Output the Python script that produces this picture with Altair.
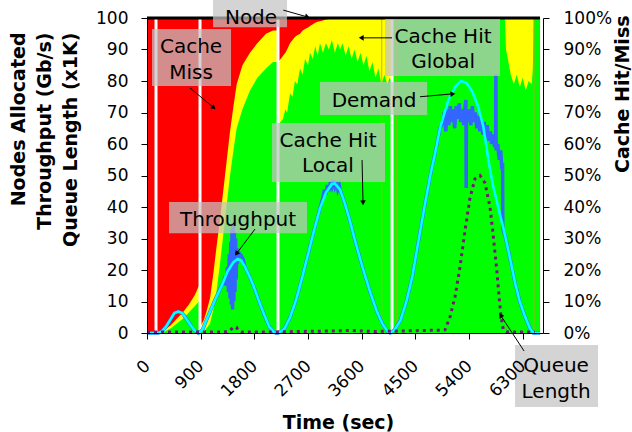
import math
import altair as alt
import pandas as pd

# ---------------- data ----------------
# cache hit/miss areas: top of green (local) and top of yellow (local+global), in %
area_time = [0, 150, 152, 300, 400, 500, 600, 700, 800, 870, 887, 891, 950, 1000, 1057, 1120,
             1157, 1224, 1308, 1392, 1450, 1504, 1600, 1727, 1850, 1995, 2113, 2195, 2199, 2240,
             2281, 2320, 2350, 2398, 2440, 2480, 2520, 2566, 2610, 2650, 2700, 2733, 2780, 2820,
             2860, 2901, 2950, 3000, 3050, 3100, 3150, 3200, 3237, 3280, 3330, 3380, 3430, 3480,
             3530, 3580, 3630, 3680, 3730, 3780, 3830, 3880, 3930, 3980, 4030, 4070, 4105, 4112,
             6000, 6020, 6060, 6100, 6150, 6200, 6250, 6300, 6350, 6400, 6450, 6470, 6485, 6590]
local_top = [0, 0, 0, 0.5, 1.5, 3, 4.5, 6.5, 8.5, 10, 10, 0, 0.5, 1.5, 3, 8,
             12, 22, 36, 50, 58, 65, 71, 77, 81, 84, 86, 86, 66, 67,
             68, 71, 70, 76, 75, 80, 79, 84, 82, 87, 85, 89, 87, 91,
             88, 92, 89, 92, 90, 93, 89, 92, 90, 92, 88, 91, 87, 90,
             86, 89, 85, 88, 83, 86, 81, 84, 79, 82, 79, 81, 80, 100,
             100, 90, 86, 82, 79, 82, 78, 81, 77, 80, 79, 84, 100, 100]
hit_top = [0, 0, 0, 1, 2.5, 4.5, 6.5, 9, 12, 15, 15, 2, 4, 7, 11, 20,
           26, 36, 50, 64, 72, 79, 85, 89, 92, 95, 96, 96, 86, 87,
           88, 89, 90, 92, 93, 94, 94.5, 95, 96, 96.5, 97, 97.5, 98, 98.5,
           98.8, 99, 99.2, 99.5, 99.7, 100, 100, 100, 100, 100, 100, 100, 100, 100,
           100, 100, 100, 100, 100, 100, 100, 100, 100, 100, 100, 100, 100, 100,
           100, 100, 100, 100, 100, 100, 100, 100, 100, 100, 100, 100, 100, 100]

demand_time = [0, 190, 250, 320, 400, 460, 525, 590, 650, 720, 790, 861, 930, 973, 1050, 1140,
               1252, 1350, 1450, 1520, 1580, 1643, 1730, 1811, 1900, 1979, 2050, 2120, 2160,
               2197, 2300, 2400, 2500, 2600, 2700, 2800, 2900, 3000, 3100, 3150, 3237, 3320,
               3404, 3500, 3627, 3750, 3852, 3950, 4042, 4075, 4150, 4250, 4350, 4450, 4550,
               4662, 4750, 4830, 4913, 5053, 5165, 5260, 5350, 5445, 5551, 5640, 5724, 5800,
               5900, 6004, 6100, 6171, 6250, 6339, 6420, 6479, 6590]
demand_value = [0, 0, 0.5, 2, 4.5, 6.3, 6.8, 6.3, 4.8, 2.8, 1, 0, 1, 3, 6.5, 10.5,
                15, 19.5, 22.5, 23.5, 23, 21, 17.5, 13.7, 9, 5.2, 2, 0.5, 0,
                0, 1.2, 5, 10.5, 17.5, 25, 32.5, 39.5, 44.5, 47.3, 47.5, 45.5, 41,
                35.5, 28.5, 20, 12.5, 7, 2.8, 0.4, 0, 1, 4, 10, 18, 29,
                41, 50, 57, 65, 74, 78, 80, 79.5, 77, 72, 65.5, 55, 47,
                39, 31, 22.5, 16, 10, 5.2, 1.5, 0, 0]

# throughput: follows demand except in these windows
tput_spike_time = [1290, 1310, 1330, 1350, 1365, 1380, 1392, 1405, 1415, 1425, 1435, 1445, 1455,
                   1465, 1475, 1485, 1495, 1505, 1515, 1530, 1545, 1560, 1580, 1610]
tput_spike_value = [16.5, 18, 15, 21, 13, 25, 11, 29, 9, 33, 7.5, 35, 10,
                    32, 13, 30, 17, 27, 22, 25.5, 24, 25, 24.5, 23.5]
tput_peak_time = [2950, 2975, 3000, 3025, 3050, 3075, 3100, 3125, 3150, 3175, 3200, 3225]
tput_peak_value = [43, 45.5, 44, 47, 45, 48, 46.5, 48.5, 46.5, 48, 45.5, 46.8]
tput_sat_time = [4960, 4985, 5010, 5035, 5060, 5085, 5110, 5135, 5160, 5185, 5210, 5235, 5260,
                 5285, 5310, 5335, 5348, 5352, 5356, 5380, 5405, 5430, 5455, 5480, 5505, 5530,
                 5555, 5580, 5605, 5630, 5655, 5680, 5705, 5730, 5755, 5780, 5805, 5830, 5846,
                 5850, 5854, 5880, 5905, 5930, 5950, 5962, 5966]
tput_sat_value = [67, 70, 64, 71, 66, 72, 67, 71, 65, 72, 68, 73, 67,
                  71, 66, 72, 74, 46, 70, 67, 71, 66, 72, 67, 70, 65,
                  69, 64, 68, 63, 67, 62, 66, 61, 64, 60, 63, 59, 60,
                  82, 58, 60, 55, 58, 52, 54, 33]

queue_time = [0, 1300, 1380, 1420, 1460, 1500, 1540, 1580, 2000, 2600, 3000, 3400, 3800, 4200,
              4600, 4900, 4997, 5080, 5165, 5249, 5333, 5417, 5501, 5584, 5668, 5752, 5807,
              5865, 5903, 5937, 5975, 6050, 6500]
queue_value = [0.3, 0.3, 0.6, 1.3, 2, 1.8, 0.6, 0.3, 0.3, 0.5, 0.6, 0.8, 0.5, 0.6,
               0.8, 0.9, 1, 5, 11.5, 21, 32.7, 43, 49, 50, 47.6, 40, 30.6,
               20, 11.5, 5.2, 1, 0.3, 0.3]

node_time = [0, 6590]
node_value = [100, 100]

gap_time = [151, 889, 2197, 4109]
seam_time = [3936, 4188, 6490]

x_ticks = [0, 900, 1800, 2700, 3600, 4500, 5400, 6300]
y_ticks = [0, 10, 20, 30, 40, 50, 60, 70, 80, 90, 100]

# annotation boxes (time range, value range)
box_t1 = [1107, 84, 3991, 2901, 2096, 369, 6171]
box_t2 = [2348, 1409, 5920, 4696, 3991, 2683, 7563]
box_v1 = [97.1, 78.4, 81.6, 69.2, 47.9, 31.7, -23.5]
box_v2 = [105.7, 96.5, 99.7, 79.7, 66.7, 41.6, -3.8]

label_text = ["Node", "Cache", "Miss", "Cache Hit", "Global", "Demand", "Cache Hit", "Local",
              "Throughput", "Queue", "Length"]
label_t = [1744, 738, 738, 4964, 4964, 3807, 3035, 3035, 1526, 6859, 6859]
label_v = [98.1, 88.9, 80.6, 92.1, 84.0, 71.7, 59.0, 51.1, 34.0, -12.4, -20.6]

arrow_t1 = [2286, 721, 4109, 4578, 3606, 1811, 6322]
arrow_v1 = [102.5, 77.8, 93.7, 75.0, 54.9, 33.0, -5.7]
arrow_t2 = [2678, 1107, 3606, 5115, 3622, 1509, 5937]
arrow_v2 = [100.4, 71.7, 93.7, 75.9, 41.6, 25.4, 5.4]

# ---------------- layout ----------------
W, H = 396, 315
X_MAX = 6640
FONT = "DejaVu Sans"

xs = alt.Scale(domain=[0, X_MAX], nice=False, zero=False)
ys = alt.Scale(domain=[0, 100], nice=False, zero=False)

area_df = pd.DataFrame({"t": area_time, "local": local_top, "hit": hit_top})
red_df = pd.DataFrame({"t": [area_time[0], area_time[-1]], "v": [100, 100]})
demand_df = pd.DataFrame({"t": demand_time, "v": demand_value})

windows = [(min(tput_spike_time), max(tput_spike_time)),
           (min(tput_peak_time), max(tput_peak_time)),
           (min(tput_sat_time), max(tput_sat_time))]
tp = [(t, v) for t, v in zip(demand_time, demand_value)
      if not any(a <= t <= b for a, b in windows)]
tp += list(zip(tput_spike_time, tput_spike_value))
tp += list(zip(tput_peak_time, tput_peak_value))
tp += list(zip(tput_sat_time, tput_sat_value))
tp.sort(key=lambda p: p[0])
tput_df = pd.DataFrame({"t": [p[0] for p in tp], "v": [p[1] for p in tp]})

queue_df = pd.DataFrame({"t": queue_time, "v": queue_value})
node_df = pd.DataFrame({"t": node_time, "v": node_value})
gap_df = pd.DataFrame({"t": gap_time})
seam_df = pd.DataFrame({"t": seam_time})
box_df = pd.DataFrame({"t1": box_t1, "t2": box_t2, "v1": box_v1, "v2": box_v2})
label_df = pd.DataFrame({"t": label_t, "v": label_v, "txt": label_text})

t_per_px = X_MAX / W
v_per_px = 100 / H
angles = []
for a, b, c, d in zip(arrow_t1, arrow_v1, arrow_t2, arrow_v2):
    dx = (c - a) / t_per_px
    dy = -(d - b) / v_per_px
    angles.append(math.degrees(math.atan2(dx, -dy)) % 360)
arrow_df = pd.DataFrame({"t1": arrow_t1, "v1": arrow_v1, "t2": arrow_t2, "v2": arrow_v2,
                         "ang": angles})

axis_common = dict(labelFont=FONT, labelFontSize=17, labelColor="black",
                   tickColor="black", domainColor="black", tickSize=6, grid=False,
                   titleFont=FONT, titleFontSize=19, titleFontWeight="bold",
                   titleColor="black", zindex=1)

x_axis = alt.Axis(values=x_ticks, format="d", labelAngle=315, labelAlign="right",
                  labelBaseline="middle", labelPadding=24, title="Time (sec)",
                  titleX=191, titleY=95, titleBaseline="alphabetic", titleAlign="center",
                  **axis_common)


def X(field="t"):
    return alt.X(f"{field}:Q", scale=xs, axis=x_axis, title="Time (sec)")


def Y(field="v"):
    return alt.Y(f"{field}:Q", scale=ys, axis=None)


red = alt.Chart(red_df).mark_area(color="#FF0000").encode(
    x=X(),
    y=alt.Y("v:Q", scale=ys, axis=alt.Axis(
        orient="right", values=y_ticks, labelExpr="datum.value + '%'",
        title="Cache Hit/Miss", titleAngle=270, titleAlign="right", titleBaseline="top",
        titleX=70, titleY=-3, labelPadding=14, **axis_common)),
)
yellow = alt.Chart(area_df).mark_area(color="#FFFF00").encode(x=X(), y=Y("hit"))
green = alt.Chart(area_df).mark_area(color="#00FF00").encode(x=X(), y=Y("local"))

seams = alt.Chart(seam_df).mark_rule(color="#C0A020", strokeWidth=1, opacity=0.8).encode(
    x=X(), y=alt.value(0), y2=alt.value(H))
gaps = alt.Chart(gap_df).mark_rule(color="white", strokeWidth=3).encode(
    x=X(), y=alt.value(0), y2=alt.value(H))

tput = alt.Chart(tput_df).mark_line(color="#3366FF", strokeWidth=3.5).encode(x=X(), y=Y())

demand = alt.Chart(demand_df).mark_line(color="#00FFFF", strokeWidth=2.6).encode(
    x=X(),
    y=alt.Y("v:Q", scale=ys, axis=alt.Axis(
        orient="left", values=y_ticks,
        title=["Nodes Allocated", "Throughput (Gb/s)", "Queue Length (x1K)"],
        titleAngle=270, titleAlign="right", titleBaseline="top", titleLineHeight=26,
        titleX=-138, titleY=14, labelPadding=13, **axis_common)),
)

queue = alt.Chart(queue_df).mark_line(color="#7F107F", strokeWidth=3,
                                      strokeDash=[3, 4]).encode(x=X(), y=Y())
node = alt.Chart(node_df).mark_line(color="black", strokeWidth=3).encode(x=X(), y=Y())

boxes = alt.Chart(box_df).mark_rect(fill="#C4C4C4", opacity=0.72).encode(
    x=X("t1"), x2="t2:Q", y=Y("v1"), y2="v2:Q")
labels = alt.Chart(label_df).mark_text(font=FONT, fontSize=20, color="black",
                                       align="center", baseline="alphabetic").encode(
    x=X(), y=Y(), text="txt:N")
arrow_lines = alt.Chart(arrow_df).mark_rule(color="black", strokeWidth=1).encode(
    x=X("t1"), y=Y("v1"), x2="t2:Q", y2="v2:Q")
arrow_heads = alt.Chart(arrow_df).mark_point(shape="triangle", filled=True, color="black",
                                             size=32, opacity=1).encode(
    x=X("t2"), y=Y("v2"), angle=alt.Angle("ang:Q", scale=None))

chart = alt.layer(
    red, yellow, green, seams, gaps, tput, demand, queue, node,
    boxes, labels, arrow_lines, arrow_heads,
).resolve_scale(y="independent").properties(
    width=W, height=H,
    padding={"left": 147, "top": 18, "right": 632 - 147 - W, "bottom": 432 - 18 - H},
    autosize=alt.AutoSizeParams(type="none"),
    background="white",
).configure_view(stroke=None)

chart.save("out.html", embed_options={"renderer": "svg", "actions": False})
